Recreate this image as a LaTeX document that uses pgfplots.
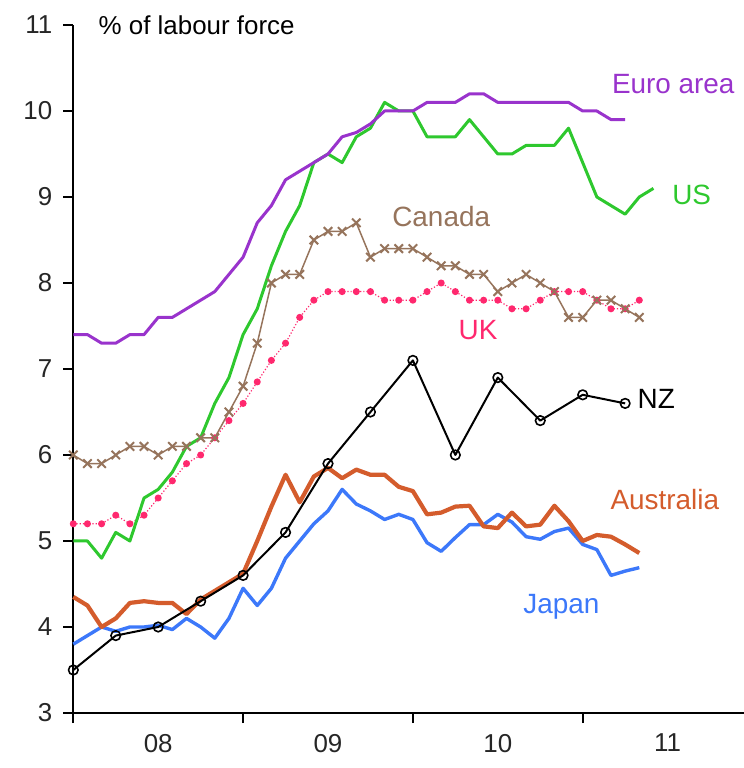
\documentclass[border=0pt]{standalone}
\usepackage{pgfplots}
\pgfplotsset{compat=1.18}
\usepackage{pgfplotstable}
\usepackage{fontspec}
\setmainfont{Liberation Sans}

\definecolor{euro}{RGB}{153,51,204}
\definecolor{usg}{RGB}{46,200,46}
\definecolor{can}{RGB}{150,116,92}
\definecolor{uk}{RGB}{255,40,110}
\definecolor{aus}{RGB}{212,92,44}
\definecolor{jap}{RGB}{60,120,250}

\pgfplotstableread{
m v
0 5.0
1 5.0
2 4.8
3 5.1
4 5.0
5 5.5
6 5.6
7 5.8
8 6.1
9 6.2
10 6.6
11 6.9
12 7.4
13 7.7
14 8.2
15 8.6
16 8.9
17 9.4
18 9.5
19 9.4
20 9.7
21 9.8
22 10.1
23 10.0
24 10.0
25 9.7
26 9.7
27 9.7
28 9.9
29 9.7
30 9.5
31 9.5
32 9.6
33 9.6
34 9.6
35 9.8
36 9.4
37 9.0
38 8.9
39 8.8
40 9.0
41 9.1
}\usdata

\pgfplotstableread{
m v
0 7.4
1 7.4
2 7.3
3 7.3
4 7.4
5 7.4
6 7.6
7 7.6
8 7.7
9 7.8
10 7.9
11 8.1
12 8.3
13 8.7
14 8.9
15 9.2
16 9.3
17 9.4
18 9.5
19 9.7
20 9.75
21 9.85
22 10.0
23 10.0
24 10.0
25 10.1
26 10.1
27 10.1
28 10.2
29 10.2
30 10.1
31 10.1
32 10.1
33 10.1
34 10.1
35 10.1
36 10.0
37 10.0
38 9.9
39 9.9
}\eurodata

\pgfplotstableread{
m v
0 6.0
1 5.9
2 5.9
3 6.0
4 6.1
5 6.1
6 6.0
7 6.1
8 6.1
9 6.2
10 6.2
11 6.5
12 6.8
13 7.3
14 8.0
15 8.1
16 8.1
17 8.5
18 8.6
19 8.6
20 8.7
21 8.3
22 8.4
23 8.4
24 8.4
25 8.3
26 8.2
27 8.2
28 8.1
29 8.1
30 7.9
31 8.0
32 8.1
33 8.0
34 7.9
35 7.6
36 7.6
37 7.8
38 7.8
39 7.7
40 7.6
}\candata

\pgfplotstableread{
m v
0 5.2
1 5.2
2 5.2
3 5.3
4 5.2
5 5.3
6 5.5
7 5.7
8 5.9
9 6.0
10 6.2
11 6.4
12 6.6
13 6.85
14 7.1
15 7.3
16 7.6
17 7.8
18 7.9
19 7.9
20 7.9
21 7.9
22 7.8
23 7.8
24 7.8
25 7.9
26 8.0
27 7.9
28 7.8
29 7.8
30 7.8
31 7.7
32 7.7
33 7.8
34 7.9
35 7.9
36 7.9
37 7.8
38 7.7
39 7.7
40 7.8
}\ukdata

\pgfplotstableread{
m v
0 3.5
3 3.9
6 4.0
9 4.3
12 4.6
15 5.1
18 5.9
21 6.5
24 7.1
27 6.0
30 6.9
33 6.4
36 6.7
39 6.6
}\nzdata

\pgfplotstableread{
m v
0 4.35
1 4.25
2 4.0
3 4.1
4 4.28
5 4.3
6 4.28
7 4.28
8 4.15
9 4.32
10 4.42
11 4.52
12 4.62
13 5.0
14 5.4
15 5.77
16 5.45
17 5.75
18 5.85
19 5.73
20 5.83
21 5.77
22 5.77
23 5.63
24 5.58
25 5.31
26 5.33
27 5.4
28 5.41
29 5.17
30 5.15
31 5.33
32 5.17
33 5.19
34 5.41
35 5.23
36 5.0
37 5.07
38 5.05
39 4.96
40 4.86
}\ausdata

\pgfplotstableread{
m v
0 3.8
1 3.9
2 4.0
3 3.95
4 4.0
5 4.0
6 4.02
7 3.97
8 4.1
9 4.0
10 3.87
11 4.1
12 4.45
13 4.25
14 4.45
15 4.8
16 5.0
17 5.2
18 5.35
19 5.6
20 5.43
21 5.35
22 5.25
23 5.31
24 5.25
25 4.98
26 4.88
27 5.04
28 5.19
29 5.19
30 5.31
31 5.22
32 5.05
33 5.02
34 5.11
35 5.15
36 4.96
37 4.9
38 4.6
39 4.65
40 4.69
}\japdata

\begin{document}
\begin{tikzpicture}
\path[use as bounding box] (-36.65bp,-27.5bp) rectangle (335.35bp,356.5bp);
\begin{axis}[
  scale only axis, width=335.35bp, height=344bp,
  at={(0,0)}, anchor=south west,
  xmin=0, xmax=47.4, ymin=3, ymax=11,
  axis x line=bottom, axis y line=left,
  axis line style={-, line width=1bp, black},
  xtick={0,12,24,36}, xticklabels={},
  extra x ticks={6,18,30,42}, extra x tick labels={08,09,10,11},
  extra x tick style={major tick length=0pt},
  ytick={3,4,...,11},
  tick align=outside, major tick length=5bp,
  tick style={black, line width=0.9bp},
  ticklabel style={font=\fontsize{13}{13}\selectfont, text=black!85},
  /pgf/number format/assume math mode=true,
  xticklabel style={yshift=-7bp},
  yticklabel style={xshift=-2bp},
  clip=false,
  line join=round,
]
\addplot[jap, line width=1.7bp] table[x=m,y=v] {\japdata};
\addplot[aus, line width=2.1bp] table[x=m,y=v] {\ausdata};
\addplot[uk, line width=0.6bp, densely dotted, mark=*, mark size=1.45bp, mark options={solid, fill=uk, draw=uk}] table[x=m,y=v] {\ukdata};
\addplot[can, line width=0.75bp, mark=x, mark size=3bp, mark options={line width=1bp}] table[x=m,y=v] {\candata};
\addplot[black, line width=1bp, mark=o, mark size=2.4bp, mark options={fill=white, line width=0.8bp}] table[x=m,y=v] {\nzdata};
\addplot[usg, line width=1.5bp] table[x=m,y=v] {\usdata};
\addplot[euro, line width=1.5bp] table[x=m,y=v] {\eurodata};

\node[anchor=west, font=\fontsize{13}{13}\selectfont] at (axis cs:1.3,11) {\% of labour force};
\node[text=euro, font=\fontsize{14}{14}\selectfont] at (axis cs:42.4,10.31) {Euro area};
\node[text=usg, font=\fontsize{14}{14}\selectfont] at (axis cs:43.7,9.02) {US};
\node[text=can, font=\fontsize{14}{14}\selectfont] at (axis cs:26.0,8.77) {Canada};
\node[text=uk, font=\fontsize{14}{14}\selectfont] at (axis cs:28.6,7.45) {UK};
\node[text=black, font=\fontsize{14}{14}\selectfont] at (axis cs:41.2,6.65) {NZ};
\node[text=aus, font=\fontsize{14}{14}\selectfont] at (axis cs:41.8,5.48) {Australia};
\node[text=jap, font=\fontsize{14}{14}\selectfont] at (axis cs:34.5,4.23) {Japan};
\end{axis}
\end{tikzpicture}
\end{document}
